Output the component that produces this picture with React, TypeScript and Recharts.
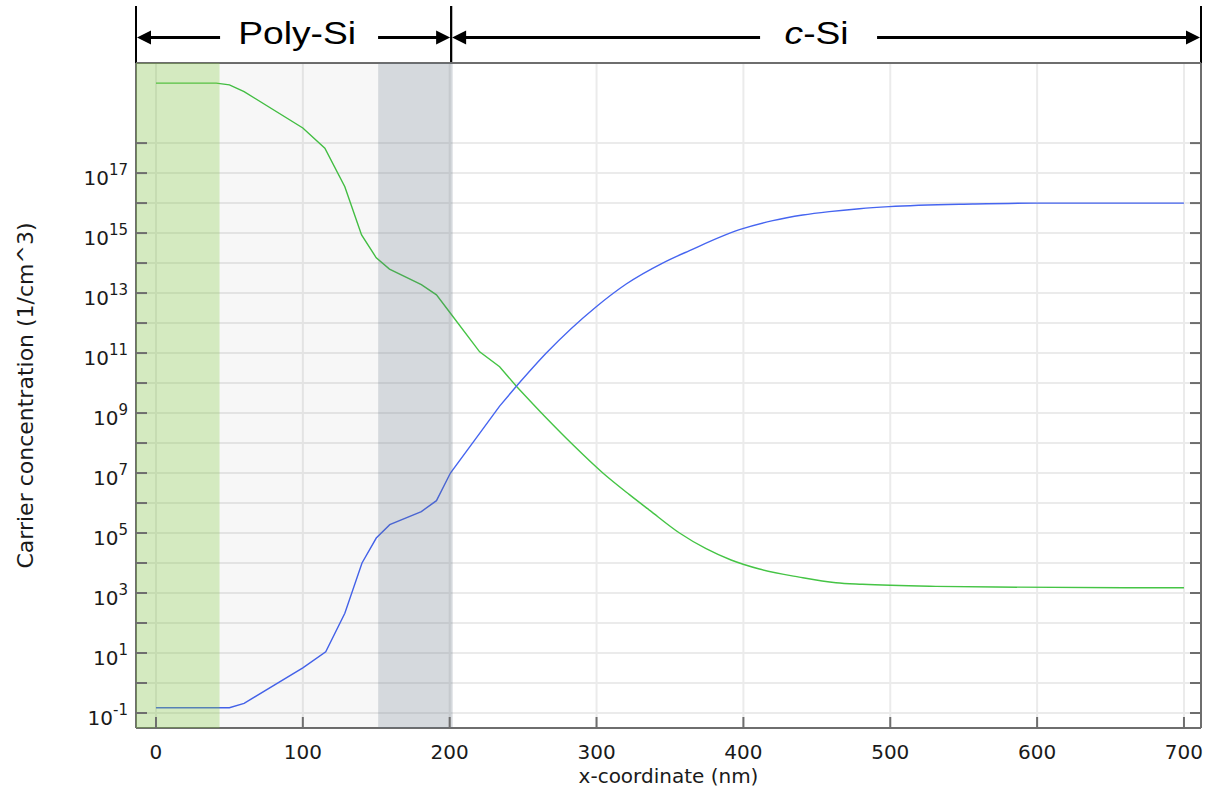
import React from 'react';
import { LineChart, Line, XAxis, YAxis, CartesianGrid, ReferenceArea } from 'recharts';

// position along the stack (nm) and carrier concentration (1/cm^3)
const greenX = [0, 41, 50, 60, 100, 115, 128.6, 140, 150, 159, 180.7, 191, 200, 220.4, 234, 245.4, 265.8, 283.9, 304.3, 322.4, 336, 356.5, 374.6, 391.6, 410.9, 438, 463, 481, 531, 572, 660, 700];
const greenN = [1e20, 1e20, 8.7e19, 5.2e19, 3.2e18, 6.8e17, 3.5e16, 8.7e14, 1.5e14, 6.3e13, 1.9e13, 8.7e12, 2.3e12, 1.1e11, 3.5e10, 7.8e9, 6.8e8, 8.7e7, 1e7, 1.9e6, 5.8e5, 1e5, 3.0e4, 1.26e4, 6.3e3, 3.4e3, 2.2e3, 1.95e3, 1.66e3, 1.58e3, 1.5e3, 1.5e3];

const blueX = [0, 41, 50, 60, 100, 115.6, 128.6, 140.3, 150, 159.2, 180.7, 191, 200.5, 220.4, 234, 245.4, 265.8, 299.8, 320.2, 345, 363.3, 397.3, 420, 440.4, 458.5, 479, 499.3, 556, 598.7, 700];
const blueN = [0.15, 0.15, 0.15, 0.21, 3.2, 11, 210, 1e4, 6.8e4, 1.9e5, 5.2e5, 1.2e6, 1e7, 2.1e8, 1.7e9, 7.8e9, 1e11, 3.5e12, 2e13, 1e14, 2.6e14, 1.3e15, 2.6e15, 4e15, 5.2e15, 6.5e15, 7.6e15, 9.3e15, 1e16, 1e16];

const xTicks = [0, 100, 200, 300, 400, 500, 600, 700];
const yTicks = Array.from({ length: 20 }, (_, i) => Math.pow(10, i - 1));

const xMin = -13.6;
const xMax = 711.6;
const yMin = Math.pow(10, -1.5);
const yMax = Math.pow(10, 20.67);

// layer boundaries (nm)
const contactEnd = 43.3;
const interfaceStart = 151.3;
const interfaceEnd = 202;
const polyEnd = 201;

// near the junction the mesh is coarse, so those segments stay straight;
// the bulk part is drawn as a smooth curve
const splitX = 245.4;

const greenData = greenX.map((x, i) => ({ x, n: greenN[i] }));
const blueData = blueX.map((x, i) => ({ x, n: blueN[i] }));
const greenNear = greenData.filter((d) => d.x <= splitX);
const greenBulk = greenData.filter((d) => d.x >= splitX);
const blueNear = blueData.filter((d) => d.x <= splitX);
const blueBulk = blueData.filter((d) => d.x >= splitX);

const greenColor = '#45c445';
const blueColor = '#4665f0';
const tickColor = '#6e6e6e';
const textColor = '#1a1a1a';
const font = '"DejaVu Sans", sans-serif';

function BottomTick({ x, y, payload }: any) {
  return (
    <g>
      <line x1={x} y1={y} x2={x} y2={y - 11} stroke={tickColor} strokeWidth={2} />
      <text x={x} y={y + 31} textAnchor="middle" fontSize={20} fontFamily={font} fill={textColor}>
        {payload.value}
      </text>
    </g>
  );
}

function TopTick({ x, y }: any) {
  return <line x1={x} y1={y} x2={x} y2={y + 11} stroke={tickColor} strokeWidth={2} />;
}

function LeftTick({ x, y, payload }: any) {
  const exp = Math.round(Math.log10(payload.value));
  return (
    <g>
      <line x1={x} y1={y} x2={x + 11} y2={y} stroke={tickColor} strokeWidth={2} />
      {exp % 2 !== 0 && (
        <text x={x - 8} y={y + 12} textAnchor="end" fontSize={20} fontFamily={font} fill={textColor}>
          <tspan>10</tspan>
          <tspan dy={-10} fontSize={15}>{exp}</tspan>
        </text>
      )}
    </g>
  );
}

function RightTick({ x, y }: any) {
  return <line x1={x} y1={y} x2={x - 11} y2={y} stroke={tickColor} strokeWidth={2} />;
}

function XTitle({ viewBox }: any) {
  const cx = viewBox.x + viewBox.width / 2;
  return (
    <text x={cx} y={viewBox.y + 48} textAnchor="middle" dominantBaseline="central" fontSize={20} fontFamily={font} fill={textColor}>
      x-coordinate (nm)
    </text>
  );
}

function YTitle({ viewBox }: any) {
  const cx = viewBox.x + 25;
  const cy = viewBox.y + viewBox.height / 2;
  return (
    <text x={cx} y={cy} transform={`rotate(-90 ${cx} ${cy})`} textAnchor="middle" dominantBaseline="central" fontSize={22} fontFamily={font} fill={textColor}>
      Carrier concentration (1/cm^3)
    </text>
  );
}

// double-headed span marker drawn above a region of the plot
function SpanMarker({ viewBox, name, gapCenter, gapHalf }: any) {
  const { x, y, width } = viewBox;
  const x2 = x + width;
  const ay = y - 25.5;
  const cx = x + width / 2 + gapCenter;
  const head = 15;
  return (
    <g>
      <line x1={x} y1={y - 57} x2={x} y2={y} stroke="#000" strokeWidth={2} />
      <line x1={x2} y1={y - 57} x2={x2} y2={y} stroke="#000" strokeWidth={2} />
      <line x1={x + head - 2} y1={ay} x2={cx - gapHalf} y2={ay} stroke="#000" strokeWidth={3} />
      <line x1={cx + gapHalf} y1={ay} x2={x2 - head + 2} y2={ay} stroke="#000" strokeWidth={3} />
      <polygon points={`${x + 1},${ay} ${x + head},${ay - 7} ${x + head},${ay + 7}`} fill="#000" />
      <polygon points={`${x2 - 1},${ay} ${x2 - head},${ay - 7} ${x2 - head},${ay + 7}`} fill="#000" />
      <text
        transform={`translate(${cx - 2},${y - 19}) scale(1.2,1)`}
        textAnchor="middle"
        fontSize={31}
        fontFamily='"Liberation Sans", Arial, sans-serif'
        fill="#000"
      >
        {name}
      </text>
    </g>
  );
}

export default function App() {
  return (
    <div style={{ position: 'absolute', left: 0, top: 0, width: 1206, height: 789, background: '#fff' }}>
      <LineChart width={1206} height={789} margin={{ top: 62, right: 4, bottom: 0, left: 0 }}>
        <CartesianGrid stroke="#ebebeb" strokeWidth={2} />
        <XAxis
          dataKey="x"
          type="number"
          domain={[xMin, xMax]}
          allowDataOverflow
          ticks={xTicks}
          interval={0}
          height={61}
          tickSize={0}
          tickMargin={0}
          tickLine={false}
          tick={<BottomTick />}
          axisLine={{ stroke: tickColor, strokeWidth: 2 }}
          label={<XTitle />}
        />
        <XAxis
          xAxisId="top"
          orientation="top"
          type="number"
          domain={[xMin, xMax]}
          allowDataOverflow
          ticks={xTicks}
          interval={0}
          height={1}
          tickSize={0}
          tickMargin={0}
          tickLine={false}
          tick={<TopTick />}
          axisLine={{ stroke: tickColor, strokeWidth: 2 }}
        />
        <YAxis
          type="number"
          scale="log"
          domain={[yMin, yMax]}
          allowDataOverflow
          ticks={yTicks}
          interval={0}
          width={136}
          tickSize={0}
          tickMargin={0}
          tickLine={false}
          tick={<LeftTick />}
          axisLine={{ stroke: tickColor, strokeWidth: 2 }}
          label={<YTitle />}
        />
        <YAxis
          yAxisId="right"
          orientation="right"
          type="number"
          scale="log"
          domain={[yMin, yMax]}
          allowDataOverflow
          ticks={yTicks}
          interval={0}
          width={1}
          tickSize={0}
          tickMargin={0}
          tickLine={false}
          tick={<RightTick />}
          axisLine={{ stroke: tickColor, strokeWidth: 2 }}
        />
        <Line data={greenNear} dataKey="n" type="linear" stroke={greenColor} strokeWidth={1.4} dot={false} isAnimationActive={false} />
        <Line data={greenBulk} dataKey="n" type="monotone" stroke={greenColor} strokeWidth={1.4} dot={false} isAnimationActive={false} />
        <Line data={blueNear} dataKey="n" type="linear" stroke={blueColor} strokeWidth={1.4} dot={false} isAnimationActive={false} />
        <Line data={blueBulk} dataKey="n" type="monotone" stroke={blueColor} strokeWidth={1.4} dot={false} isAnimationActive={false} />
        <ReferenceArea x1={xMin} x2={contactEnd} fill="#78be3c" fillOpacity={0.32} stroke="none" zIndex={600} />
        <ReferenceArea x1={contactEnd} x2={interfaceStart} fill="#000" fillOpacity={0.03} stroke="none" zIndex={600} />
        <ReferenceArea x1={interfaceStart} x2={interfaceEnd} fill="#5a6a7a" fillOpacity={0.255} stroke="none" zIndex={600} />
        <ReferenceArea x1={xMin} x2={polyEnd} fill="none" stroke="none" label={<SpanMarker name="Poly-Si" gapCenter={5.5} gapHalf={79} />} />
        <ReferenceArea
          x1={polyEnd}
          x2={xMax}
          fill="none"
          stroke="none"
          label={
            <SpanMarker
              name={
                <>
                  <tspan fontStyle="italic">c</tspan>-Si
                </>
              }
              gapCenter={-7.5}
              gapHalf={58.5}
            />
          }
        />
      </LineChart>
    </div>
  );
}
